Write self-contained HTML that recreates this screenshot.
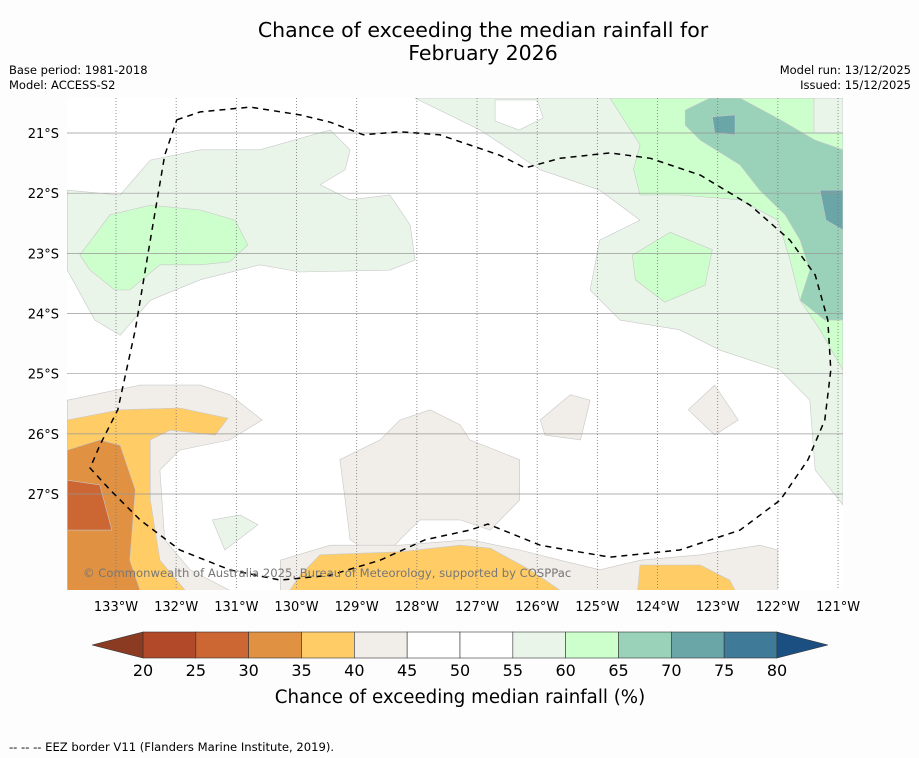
<!DOCTYPE html>
<html><head><meta charset="utf-8"><style>
body{margin:0;background:#fdfdfd;font-family:"DejaVu Sans","Liberation Sans",sans-serif;}
#w{position:relative;width:919px;height:758px;overflow:hidden;background:#fdfdfd}
.t{position:absolute;font-size:11.5px;color:#000;white-space:nowrap}
</style></head><body>
<div id="w">
<div class="t" style="left:0;width:966px;top:19px;text-align:center;font-size:20.5px;line-height:23px">Chance of exceeding the median rainfall for<br>February 2026</div>
<div class="t" style="left:9px;top:63px;line-height:15px">Base period: 1981-2018<br>Model: ACCESS-S2</div>
<div class="t" style="right:8px;top:63px;line-height:15px;text-align:right">Model run: 13/12/2025<br>Issued: 15/12/2025</div>
<div class="t" style="left:9px;top:740px;font-size:11.6px">--  --  -- EEZ border V11 (Flanders Marine Institute, 2019).</div>
<svg id="s" width="919" height="758" style="position:absolute;left:0;top:0;font-family:'DejaVu Sans',sans-serif"></svg>
</div>
<script>
const lonTicks=[133,132,131,130,129,128,127,126,125,124,123,122,121];
const latTicks=[21,22,23,24,25,26,27];
const levels=[20,25,30,35,40,45,50,55,60,65,70,75,80];
const levelColors=['#b24a2a','#cc6633','#e09142','#ffcc66','#f1ede8','#ffffff','#ffffff','#eaf5ea','#ccffcc','#99d1b9','#6aa5a8','#3f7a98'];
const lowColor='#8b3b22', highColor='#1b4f82';
const regions=[
['#eaf5ea',[[133.81,21.95],[132.93,22.03],[132.43,21.45],[131.6,21.28],[130.61,21.28],[129.44,20.95],[129.11,21.28],[129.19,21.61],[129.61,21.86],[129.11,22.11],[128.45,22.03],[128.11,22.53],[128.03,23.11],[128.45,23.28],[129.94,23.31],[130.61,23.19],[131.6,23.44],[132.43,23.78],[132.93,24.36],[133.35,24.11],[133.81,23.28]]],
['#ccffcc',[[133.6,23.03],[133.1,22.36],[132.43,22.2],[131.6,22.28],[131.02,22.45],[130.81,22.86],[131.11,23.14],[131.6,23.19],[132.27,23.19],[132.77,23.61],[133.02,23.61],[133.43,23.28]]],
['#eaf5ea',[[128.03,20.42],[120.92,20.42],[120.92,27.18],[121.38,26.6],[121.47,25.44],[121.96,24.94],[122.96,24.61],[123.63,24.27],[124.62,24.11],[125.12,23.61],[124.96,22.78],[124.29,22.45],[124.96,21.95],[125.95,21.61],[126.95,20.95]]],
['#ffffff',[[126.7,20.45],[126.0,20.45],[125.9,20.75],[126.3,20.95],[126.7,20.8]]],
['#ccffcc',[[124.79,20.42],[121.4,20.42],[121.4,21.0],[120.92,21.0],[120.92,24.94],[121.3,24.27],[121.63,23.78],[121.8,23.1],[122.0,22.45],[122.63,22.11],[123.63,22.03],[124.29,22.03],[124.4,21.6],[124.29,21.2]]],
['#ccffcc',[[124.42,23.03],[123.79,22.65],[123.09,22.94],[123.21,23.53],[123.88,23.81],[124.37,23.44]]],
['#99d1b9',[[123.54,20.62],[123.13,20.42],[122.63,20.42],[121.96,20.78],[121.38,21.12],[120.92,21.28],[120.92,24.11],[121.22,24.11],[121.63,23.78],[121.47,23.28],[121.63,22.78],[121.88,22.36],[122.3,21.95],[122.63,21.53],[123.29,21.12],[123.54,20.87]]],
['#6aa5a8',[[123.09,20.73],[122.71,20.7],[122.71,21.03],[123.05,21.0]]],
['#6aa5a8',[[121.3,21.95],[120.92,21.95],[120.92,22.61],[121.2,22.45]]],
['#f1ede8',[[133.81,25.44],[132.6,25.19],[131.6,25.19],[131.11,25.35],[130.57,25.77],[131.11,26.1],[131.94,26.27],[132.27,26.6],[132.19,27.76],[131.77,28.26],[131.11,28.6],[133.81,28.6]]],
['#ffcc66',[[133.81,25.77],[132.93,25.6],[131.94,25.57],[131.14,25.74],[131.35,26.02],[132.1,25.94],[132.43,26.1],[132.43,27.1],[132.27,28.1],[131.85,28.6],[133.81,28.6]]],
['#e09142',[[133.81,26.27],[133.27,26.1],[132.93,26.19],[132.68,26.93],[132.77,28.1],[132.6,28.6],[133.81,28.6]]],
['#cc6633',[[133.81,26.77],[133.27,26.85],[133.07,27.6],[133.81,27.6]]],
['#f1ede8',[[129.28,26.43],[128.61,26.1],[128.28,25.77],[127.78,25.6],[127.28,25.85],[127.12,26.1],[126.29,26.43],[126.29,27.1],[126.78,27.6],[127.28,27.43],[127.95,27.43],[128.28,27.76],[128.61,28.1],[129.11,27.76],[129.19,27.1]]],
['#f1ede8',[[130.27,28.1],[129.44,27.85],[128.28,27.85],[127.12,27.76],[126.29,27.93],[125.62,28.1],[124.96,28.26],[124.29,28.1],[123.29,28.01],[122.3,27.85],[122.0,27.93],[122.0,28.6],[130.27,28.6]]],
['#ffcc66',[[129.94,28.35],[129.61,28.01],[128.28,27.96],[127.28,27.85],[126.78,27.9],[126.12,28.26],[125.62,28.6],[130.11,28.6]]],
['#ffcc66',[[124.29,28.18],[123.29,28.18],[122.8,28.43],[122.71,28.6],[124.33,28.6]]],
['#f1ede8',[[125.95,25.77],[125.45,25.35],[125.12,25.44],[125.28,26.1],[125.87,26.02]]],
['#f1ede8',[[123.49,25.6],[123.05,25.19],[122.66,25.77],[123.05,26.02]]],
['#eaf5ea',[[131.4,27.43],[130.94,27.35],[130.64,27.51],[131.19,27.93]]]
];
const eez=[[131.99,20.78],[131.6,20.65],[130.77,20.57],[129.94,20.7],[129.44,20.82],[128.89,21.03],[128.28,20.98],[127.62,21.03],[127.12,21.2],[126.62,21.37],[126.2,21.58],[125.62,21.42],[124.79,21.33],[124.12,21.42],[123.29,21.7],[122.46,22.2],[121.8,22.78],[121.38,23.36],[121.17,24.11],[121.12,24.94],[121.22,25.77],[121.5,26.43],[121.96,27.1],[122.63,27.6],[123.63,27.93],[124.79,28.05],[125.95,27.85],[126.82,27.5],[127.12,27.6],[127.86,27.76],[128.61,28.1],[129.44,28.35],[130.27,28.43],[131.11,28.26],[131.94,27.93],[132.6,27.43],[133.1,26.93],[133.43,26.57],[133.27,26.19],[132.97,25.6],[132.68,24.27],[132.43,22.78],[132.19,21.37],[131.99,20.78]];
const X0=116,Y0=133,K=60.17;
const xs=lon=>X0+(133-lon)*K, ys=lat=>Y0+(lat-21)*K;
const L=67,R=843,T=98,B=590;
const svg=document.getElementById('s');const NS='http://www.w3.org/2000/svg';
function mk(t,a,p){const e=document.createElementNS(NS,t);for(const k in a)e.setAttribute(k,a[k]);(p||svg).appendChild(e);return e;}
const defs=mk('defs',{});const cp=mk('clipPath',{id:'c'},defs);mk('rect',{x:L,y:T,width:R-L,height:B-T},cp);
const g=mk('g',{'clip-path':'url(#c)'});
const bg=mk('rect',{x:L,y:T,width:R-L,height:B-T,fill:'#fff'},g);


regions.forEach((r,i)=>{
 const p=mk('polygon',{points:r[1].map(q=>xs(q[0]).toFixed(1)+','+ys(q[1]).toFixed(1)).join(' '),fill:r[0],stroke:'#c8c8c8','stroke-width':0.6},g);
 
 
});
latTicks.forEach(v=>{const l=mk('line',{x1:L,x2:R,y1:ys(v),y2:ys(v),stroke:'#999','stroke-width':0.7},g);
 
 });
lonTicks.forEach(v=>{const l=mk('line',{x1:xs(v),x2:xs(v),y1:T,y2:B,stroke:'#777','stroke-width':0.8,'stroke-dasharray':'1,2'},g);
 
 });
const ez=mk('polyline',{points:eez.map(q=>xs(q[0]).toFixed(1)+','+ys(q[1]).toFixed(1)).join(' '),fill:'none',stroke:'#000','stroke-width':1.5,'stroke-dasharray':'6,5'},g);


const cr=mk('text',{x:83,y:577,'font-size':11.6,fill:'#777'});cr.textContent='© Commonwealth of Australia 2025, Bureau of Meteorology, supported by COSPPac';


latTicks.forEach(v=>{const t=mk('text',{x:59,y:ys(v)+5,'font-size':13,'text-anchor':'end'});t.textContent=v+'°S';
 
 });
lonTicks.forEach(v=>{const t=mk('text',{x:xs(v),y:611,'font-size':13,'text-anchor':'middle'});t.textContent=v+'°W';
 
 });
const cx=v=>143+(v-20)*(777-143)/60, cy=632, ch=26;
for(let i=0;i<levelColors.length;i++){const r=mk('rect',{x:cx(levels[i]),y:cy,width:cx(levels[i+1])-cx(levels[i]),height:ch,fill:levelColors[i],stroke:'#333','stroke-width':0.6});
 
 }
const lt=mk('polygon',{points:`${cx(20)},${cy} 92,${cy+ch/2} ${cx(20)},${cy+ch}`,fill:lowColor,stroke:'#333','stroke-width':0.6});


const ht=mk('polygon',{points:`${cx(80)},${cy} 828,${cy+ch/2} ${cx(80)},${cy+ch}`,fill:highColor,stroke:'#333','stroke-width':0.6});


levels.forEach(v=>{const t=mk('text',{x:cx(v),y:676,'font-size':16,'text-anchor':'middle'});t.textContent=v;
 
 });
const ct=mk('text',{x:460,y:703,'font-size':18.2,'text-anchor':'middle'});ct.textContent='Chance of exceeding median rainfall (%)';


</script>
</body></html>
